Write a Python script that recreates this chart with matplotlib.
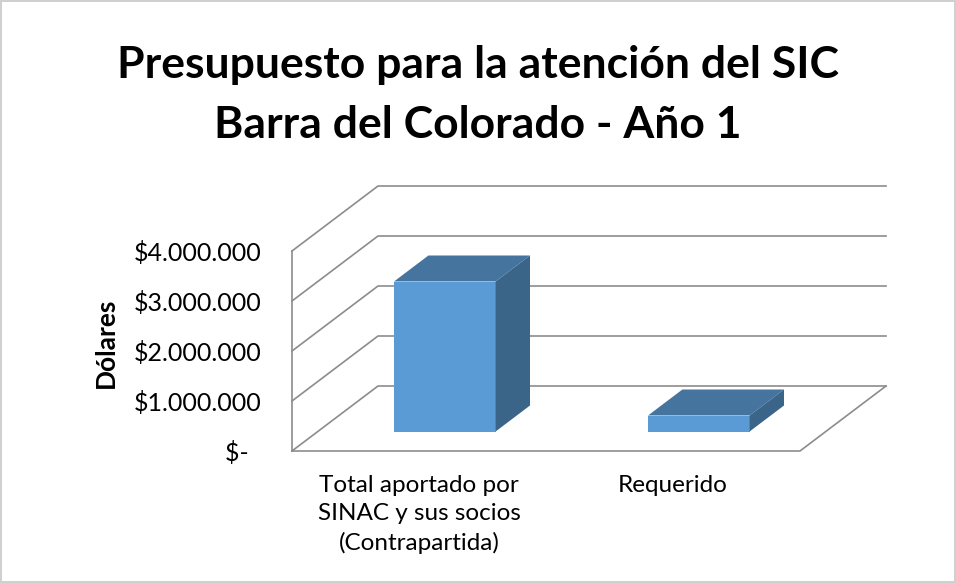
import matplotlib.pyplot as plt
import numpy as np

categorias = ["Total aportado por\nSINAC y sus socios\n(Contrapartida)", "Requerido"]
valores = np.array([3000000, 320000])
ticks = np.array([0, 1000000, 2000000, 3000000, 4000000])
etiquetas = ["$-  ", "$1.000.000", "$2.000.000", "$3.000.000", "$4.000.000"]

plt.rcParams['font.family'] = ['Lato', 'DejaVu Sans']

# profundidad del efecto 3D (en unidades de datos)
ddx = 0.3386
ddy = 1300000
z0, z1 = 0.3, 0.7
ancho = 0.4
gris = "#8c8c8c"

fig = plt.figure(figsize=(9.56, 5.83), dpi=100)
fig.patch.set_edgecolor("#d0d0d0")
fig.patch.set_linewidth(1.5)
ax = fig.add_axes([292/956, 132/583, 594/956, 265/583])
ax.set_xlim(-0.5, 1.5 + ddx)
ax.set_ylim(0, 4000000 + ddy)
for s in ax.spines.values():
    s.set_visible(False)

# paredes y lineas de division
for t in ticks:
    ax.plot([-0.5, -0.5 + ddx, 1.5 + ddx], [t, t + ddy, t + ddy], color=gris, lw=1.2, clip_on=False)
ax.plot([-0.5, -0.5], [0, ticks[-1]], color=gris, lw=1.2, clip_on=False)
ax.plot([-0.5, 1.5, 1.5 + ddx], [0, 0, ddy], color=gris, lw=1.2, clip_on=False)

# barras
for i, v in enumerate(valores):
    x = i + z0 * ddx
    b = z0 * ddy
    ax.bar(x, v, width=ancho, bottom=b, color="#5b9bd5", zorder=3)
    xl, xr = x - ancho / 2, x + ancho / 2
    d = (z1 - z0)
    ax.fill([xl, xr, xr + d * ddx, xl + d * ddx], [b + v, b + v, b + v + d * ddy, b + v + d * ddy],
            color="#45759f", zorder=3, lw=0)
    ax.fill([xr, xr + d * ddx, xr + d * ddx, xr], [b, b + d * ddy, b + v + d * ddy, b + v],
            color="#3a6488", zorder=3, lw=0)

ax.set_yticks(ticks)
ax.set_yticklabels(etiquetas, fontsize=18)
ax.set_xticks([0, 1])
ax.set_xticklabels(categorias, fontsize=17.5, linespacing=1.45, va="top")
ax.tick_params(axis="y", length=0, pad=22)
ax.tick_params(axis="x", length=0, pad=17)
ax.set_ylabel("Dólares", fontsize=19, fontweight="bold")
ax.yaxis.set_label_coords(-0.293, 0.41)

fig.text(0.5, 0.837, "Presupuesto para la atención del SIC\nBarra del Colorado - Año 1",
         ha="center", va="center", fontsize=32, fontweight="bold", linespacing=1.6)

plt.savefig("out.png", dpi=100)
